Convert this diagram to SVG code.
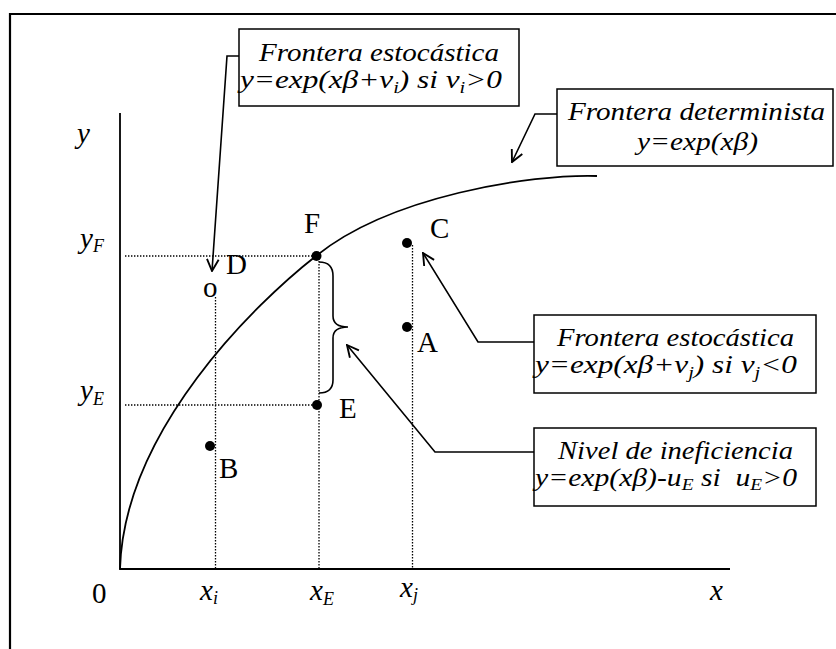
<svg xmlns="http://www.w3.org/2000/svg" width="836" height="649" viewBox="0 0 836 649">
<style>
.frame{fill:none;stroke:#000;stroke-width:2.2}
.axis{fill:none;stroke:#000;stroke-width:1.8}
.curve{fill:none;stroke:#000;stroke-width:1.8}
.dot{fill:none;stroke:#000;stroke-width:1.3;stroke-dasharray:1.4 1.6}
.box{fill:#fff;stroke:#000;stroke-width:1.5}
.lead{fill:none;stroke:#000;stroke-width:1.6}
.pt{fill:#000}
.t{font-family:"Liberation Serif","Times New Roman",serif;font-size:26px;font-style:italic;fill:#000}
.lab{font-family:"Liberation Serif","Times New Roman",serif;font-size:29px;fill:#000}
.var{font-family:"Liberation Serif","Times New Roman",serif;font-size:29px;font-style:italic;fill:#000}
</style>
<defs>
<marker id="arr" viewBox="0 0 12 12" refX="11" refY="6" markerWidth="14" markerHeight="14" markerUnits="userSpaceOnUse" orient="auto">
<path d="M1,1 L11,6 L1,11" fill="none" stroke="#000" stroke-width="1.6"/>
</marker>
</defs>
<g id="frame"><path class="frame" d="M10,649 L10,14 L836,14"/></g>
<g id="axes">
<path class="axis" d="M120,113 L120,569 L730,569"/>
<text class="var" x="77" y="143">y</text>
<text class="var" x="80" y="248">y<tspan font-size="18" dy="4">F</tspan></text>
<text class="var" x="80" y="400">y<tspan font-size="18" dy="5">E</tspan></text>
<text class="lab" x="92" y="603">0</text>
<text class="var" x="200" y="600">x<tspan font-size="18" dy="4">i</tspan></text>
<text class="var" x="310" y="600">x<tspan font-size="18" dy="5">E</tspan></text>
<text class="var" x="400" y="597">x<tspan font-size="18" dy="4">j</tspan></text>
<text class="var" x="710" y="600">x</text>
</g>
<g id="guides">
<path class="dot" d="M125,256 L316,256 M125,405 L317,405 M215.5,297 L215.5,569 M319,258 L319,569 M412.5,245 L412.5,569"/>
</g>
<g id="frontier"><path class="curve" d="M120,569 C124,430 256,303 316,256 C390,196 530,174 597,176"/></g>
<g id="brace"><path class="lead" d="M319,262 Q333,262 333,276 L333,316 Q333,327 348,327 Q333,327 333,338 L333,380 Q333,393 319,393"/></g>
<g id="points">
<circle class="pt" cx="316.5" cy="256" r="5"/>
<circle class="pt" cx="317" cy="405" r="5"/>
<circle class="pt" cx="210" cy="446" r="5"/>
<circle class="pt" cx="407" cy="243" r="5"/>
<circle class="pt" cx="407" cy="327" r="5"/>
<text class="lab" x="304" y="233">F</text>
<text class="lab" x="226" y="274">D</text>
<text class="lab" x="203" y="297" font-size="28">o</text>
<text class="lab" x="430" y="238">C</text>
<text class="lab" x="417" y="352">A</text>
<text class="lab" x="339" y="418">E</text>
<text class="lab" x="219" y="478">B</text>
</g>
<g id="connectors">
<path class="lead" d="M239,56 L227,56 L212,271" marker-end="url(#arr)"/>
<path class="lead" d="M557,114 L535,114 L512,162" marker-end="url(#arr)"/>
<path class="lead" d="M534,342 L478,342 L423,253" marker-end="url(#arr)"/>
<path class="lead" d="M534,452 L435,452 L347,345" marker-end="url(#arr)"/>
</g>
<g id="box-estocastica-i">
<rect class="box" x="239" y="29" width="280" height="77"/>
<text class="t" x="259" y="61" textLength="240" lengthAdjust="spacingAndGlyphs">Frontera estocástica</text>
<text class="t" x="240" y="88" textLength="262" lengthAdjust="spacingAndGlyphs">y=exp(xβ+v<tspan font-size="17" dy="5">i</tspan><tspan dy="-5">) si v</tspan><tspan font-size="17" dy="5">i</tspan><tspan dy="-5">&gt;0</tspan></text>
</g>
<g id="box-determinista">
<rect class="box" x="557" y="89" width="276" height="77"/>
<text class="t" x="568" y="120" textLength="257" lengthAdjust="spacingAndGlyphs">Frontera determinista</text>
<text class="t" x="637" y="150" textLength="121" lengthAdjust="spacingAndGlyphs">y=exp(xβ)</text>
</g>
<g id="box-estocastica-j">
<rect class="box" x="534" y="315" width="282" height="78"/>
<text class="t" x="557" y="346" textLength="237" lengthAdjust="spacingAndGlyphs">Frontera estocástica</text>
<text class="t" x="535" y="373" textLength="262" lengthAdjust="spacingAndGlyphs">y=exp(xβ+v<tspan font-size="17" dy="5">j</tspan><tspan dy="-5">) si v</tspan><tspan font-size="17" dy="5">j</tspan><tspan dy="-5">&lt;0</tspan></text>
</g>
<g id="box-ineficiencia">
<rect class="box" x="534" y="428" width="282" height="78"/>
<text class="t" x="558" y="459" textLength="235" lengthAdjust="spacingAndGlyphs">Nivel de ineficiencia</text>
<text class="t" x="535" y="486" textLength="262" lengthAdjust="spacingAndGlyphs" style="white-space:pre">y=exp(xβ)-u<tspan font-size="17" dy="4">E</tspan><tspan dy="-4"> si  u</tspan><tspan font-size="17" dy="4">E</tspan><tspan dy="-4">&gt;0</tspan></text>
</g>
</svg>
